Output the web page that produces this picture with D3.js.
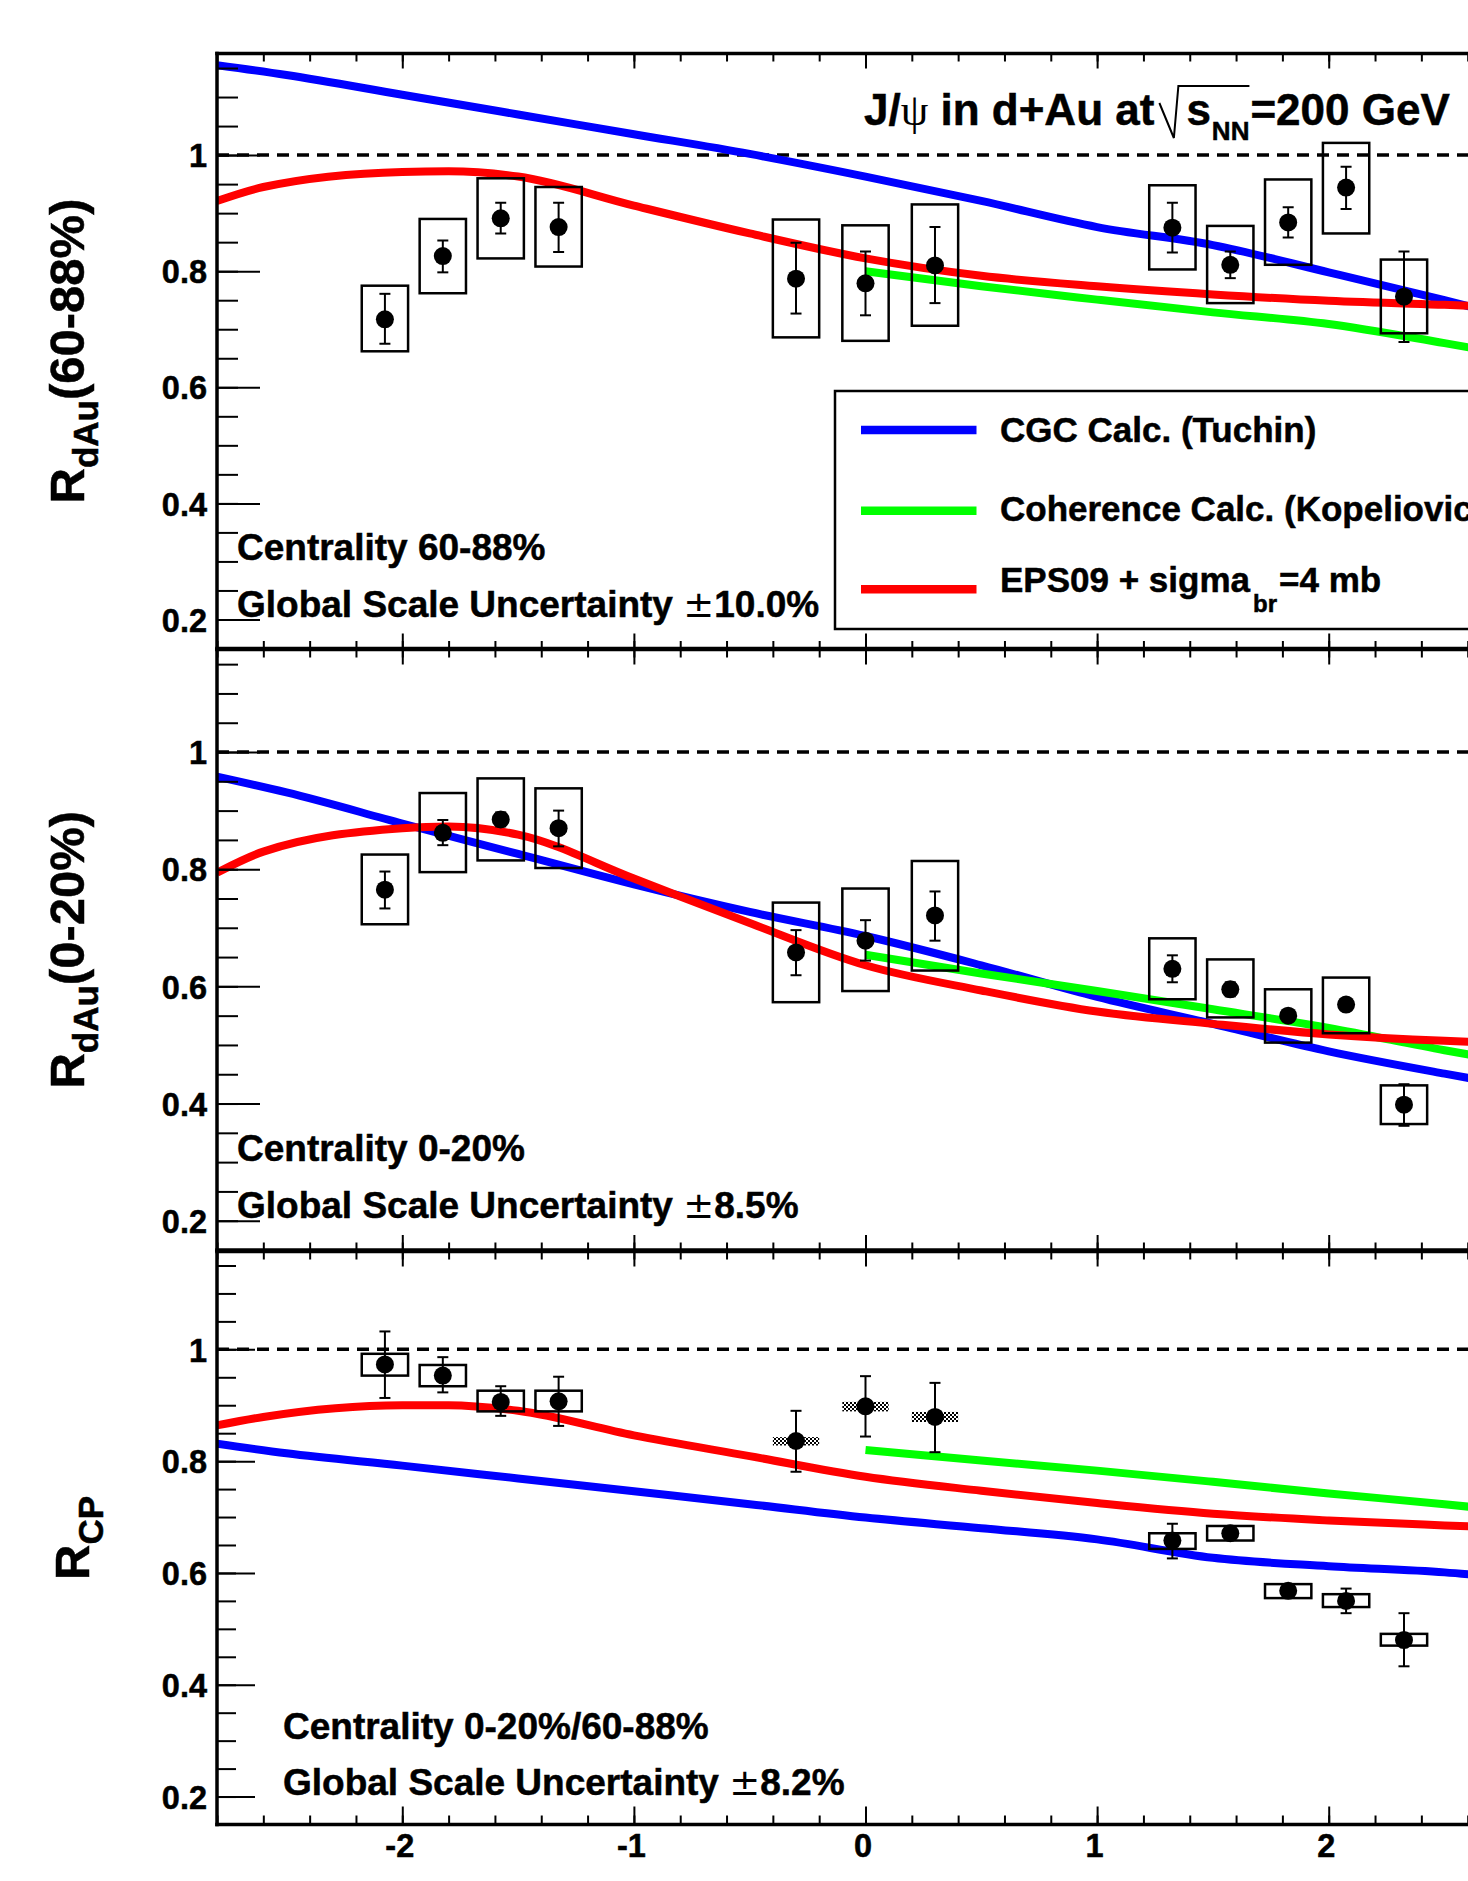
<!DOCTYPE html>
<html>
<head>
<meta charset="utf-8">
<title>J/psi in d+Au: RdAu and RCP vs rapidity</title>
<script src="https://d3js.org/d3.v7.min.js"></script>
<style>
body { margin: 0; background: #fff; }
svg { display: block; font-family: "Liberation Sans", Arial, Helvetica, sans-serif; font-weight: bold; }
svg text { stroke: #000; stroke-width: 0.5px; }
</style>
</head>
<body>
<svg id="chart" width="1468" height="1881"></svg>
<script>
// ---- data ----
const rapidity = [-2.075, -1.825, -1.575, -1.325, -0.3, 0, 0.3, 1.325, 1.575, 1.825, 2.075, 2.325];

// RdAu 60-88%
const periphVal    = [0.717, 0.826, 0.891, 0.876, 0.787, 0.779, 0.810, 0.875, 0.811, 0.884, 0.944, 0.756];
const periphStatLo = [0.675, 0.798, 0.865, 0.833, 0.727, 0.724, 0.745, 0.832, 0.788, 0.858, 0.907, 0.678];
const periphStatHi = [0.761, 0.853, 0.918, 0.918, 0.849, 0.834, 0.876, 0.918, 0.834, 0.910, 0.980, 0.834];
const periphSysLo  = [0.662, 0.762, 0.822, 0.808, 0.686, 0.680, 0.706, 0.803, 0.745, 0.811, 0.865, 0.693];
const periphSysHi  = [0.775, 0.890, 0.960, 0.945, 0.889, 0.879, 0.915, 0.948, 0.878, 0.958, 1.021, 0.820];

// RdAu 0-20%
const centralVal    = [0.765, 0.862, 0.885, 0.870, 0.658, 0.678, 0.721, 0.630, 0.595, 0.550, 0.569, 0.398];
const centralStatLo = [0.733, 0.841, 0.873, 0.839, 0.619, 0.644, 0.678, 0.607, 0.583, 0.540, 0.559, 0.362];
const centralStatHi = [0.796, 0.884, 0.897, 0.900, 0.696, 0.713, 0.762, 0.653, 0.607, 0.560, 0.579, 0.433];
const centralSysLo  = [0.706, 0.795, 0.815, 0.802, 0.573, 0.592, 0.627, 0.578, 0.547, 0.504, 0.520, 0.365];
const centralSysHi  = [0.825, 0.930, 0.955, 0.938, 0.743, 0.767, 0.814, 0.682, 0.646, 0.595, 0.615, 0.431];

// RCP
const rcpVal    = [0.973, 0.953, 0.906, 0.907, 0.836, 0.898, 0.879, 0.658, 0.671, 0.568, 0.550, 0.480];
const rcpStatLo = [0.913, 0.923, 0.881, 0.863, 0.781, 0.844, 0.816, 0.626, 0.661, 0.558, 0.528, 0.433];
const rcpStatHi = [1.032, 0.986, 0.934, 0.951, 0.890, 0.952, 0.940, 0.688, 0.681, 0.578, 0.572, 0.528];
const rcpSysLo  = [0.953, 0.934, 0.889, 0.889, 0.828, 0.889, 0.870, 0.643, 0.658, 0.555, 0.539, 0.470];
const rcpSysHi  = [0.992, 0.972, 0.926, 0.926, 0.843, 0.906, 0.888, 0.671, 0.684, 0.580, 0.562, 0.491];

// theory curves
const cgcX = [-2.8, -2.5, -2, -1.5, -1, -0.5, 0, 0.5, 1, 1.5, 2, 2.5, 2.8];
const cgcPeriph  = [1.155, 1.138, 1.104, 1.070, 1.036, 1.002, 0.963, 0.921, 0.876, 0.845, 0.798, 0.750, 0.720];
const cgcCentral = [0.958, 0.931, 0.878, 0.826, 0.774, 0.727, 0.686, 0.636, 0.582, 0.536, 0.489, 0.451, 0.430];
const cgcRcp     = [0.831, 0.814, 0.792, 0.769, 0.746, 0.723, 0.699, 0.680, 0.660, 0.627, 0.612, 0.601, 0.590];

const epsX = [-2.8, -2.6, -2, -1.8, -1.5, -1, -0.5, 0, 0.5, 1, 1.5, 2, 2.5, 2.8];
const epsPeriph  = [0.921, 0.945, 0.971, 0.972, 0.963, 0.913, 0.865, 0.822, 0.792, 0.774, 0.760, 0.749, 0.742, 0.738];
const epsCentral = [0.794, 0.830, 0.870, 0.873, 0.859, 0.784, 0.708, 0.636, 0.593, 0.557, 0.536, 0.518, 0.507, 0.503];
const epsRcp     = [0.864, 0.879, 0.900, 0.900, 0.890, 0.846, 0.809, 0.772, 0.747, 0.725, 0.706, 0.694, 0.685, 0.680];

const cohX = [0, 0.5, 1, 1.5, 2, 2.5, 2.8];
const cohPeriph  = [0.800, 0.774, 0.751, 0.729, 0.709, 0.676, 0.655];
const cohCentral = [0.654, 0.622, 0.592, 0.561, 0.529, 0.491, 0.470];
const cohRcp     = [0.820, 0.801, 0.783, 0.763, 0.742, 0.723, 0.710];

const xMajor = [-2, -1, 0, 1, 2];
const yMajor = [0.2, 0.4, 0.6, 0.8, 1];
const legendNames = ["CGC Calc. (Tuchin)", "Coherence Calc. (Kopeliovich)", "EPS09 + sigma"];

// ---- layout ----
const svg = d3.select("#chart");
const left = 217, right = 1514;
const x = d3.scaleLinear().domain([-2.8, 2.8]).range([left, right]);
const xMinor = d3.range(-14, 15).map(i => i * 0.2);
const yMinor = d3.range(3, 24).map(i => i * 0.05);

const defs = svg.append("defs");
const pat = defs.append("pattern").attr("id", "checker").attr("patternUnits", "userSpaceOnUse")
  .attr("width", 4).attr("height", 4);
pat.append("rect").attr("width", 4).attr("height", 4).attr("fill", "#fff");
pat.append("rect").attr("width", 2).attr("height", 2).attr("fill", "#000");
pat.append("rect").attr("x", 2).attr("y", 2).attr("width", 2).attr("height", 2).attr("fill", "#000");

const panels = [
  { top: 53.5, bottom: 648.5, val: periphVal, statLo: periphStatLo, statHi: periphStatHi, sysLo: periphSysLo, sysHi: periphSysHi,
    cgc: cgcPeriph, eps: epsPeriph, coh: cohPeriph, sub: "dAu", rest: "(60-88%)", titleX: 84,
    cent: "Centrality 60-88%", glob: "10.0%", textX: 237, textY: [560, 616.6], majLen: 43, minLen: 21, xTop: 15, xBot: 15 },
  { top: 649.5, bottom: 1250, val: centralVal, statLo: centralStatLo, statHi: centralStatHi, sysLo: centralSysLo, sysHi: centralSysHi,
    cgc: cgcCentral, eps: epsCentral, coh: cohCentral, sub: "dAu", rest: "(0-20%)", titleX: 84,
    cent: "Centrality 0-20%", glob: "8.5%", textX: 237, textY: [1161, 1217.6], majLen: 43, minLen: 21, xTop: 15, xBot: 15 },
  { top: 1251.5, bottom: 1824.5, val: rcpVal, statLo: rcpStatLo, statHi: rcpStatHi, sysLo: rcpSysLo, sysHi: rcpSysHi,
    cgc: cgcRcp, eps: epsRcp, coh: cohRcp, sub: "CP", rest: "", titleX: 89, hatchMid: true,
    cent: "Centrality 0-20%/60-88%", glob: "8.2%", textX: 283, textY: [1738.5, 1795.4], majLen: 38, minLen: 19, xTop: 15, xBot: 18, labels: true }
];

const colors = { cgc: "#0000ff", coh: "#00ff00", eps: "#ff0000" };

panels.forEach((p, pi) => {
  const y = d3.scaleLinear().domain([0.15, 1.175]).range([p.bottom, p.top]);
  const g = svg.append("g");
  const clipId = "clip" + pi;
  defs.append("clipPath").attr("id", clipId).append("rect")
    .attr("x", left).attr("y", p.top).attr("width", right - left).attr("height", p.bottom - p.top);
  const plot = g.append("g").attr("clip-path", `url(#${clipId})`);

  // unity line
  plot.append("line").attr("x1", left).attr("x2", right).attr("y1", y(1)).attr("y2", y(1))
    .attr("stroke", "#000").attr("stroke-width", 3.5).attr("stroke-dasharray", "12,8");

  // theory curves
  const line = d3.line().curve(d3.curveMonotoneX).x(d => x(d[0])).y(d => y(d[1]));
  [["cgc", cgcX, p.cgc], ["coh", cohX, p.coh], ["eps", epsX, p.eps]].forEach(([k, xs, ys]) => {
    plot.append("path").attr("d", line(xs.map((v, i) => [v, ys[i]])))
      .attr("fill", "none").attr("stroke", colors[k]).attr("stroke-width", 8);
  });

  // systematic boxes
  rapidity.forEach((r, i) => {
    const hatched = p.hatchMid && Math.abs(r) < 1;
    plot.append("rect")
      .attr("x", x(r - 0.1)).attr("width", x(r + 0.1) - x(r - 0.1))
      .attr("y", y(p.sysHi[i])).attr("height", y(p.sysLo[i]) - y(p.sysHi[i]))
      .attr("fill", hatched ? "url(#checker)" : "none")
      .attr("stroke", hatched ? "none" : "#000").attr("stroke-width", 2.5);
  });

  // statistical errors and points
  rapidity.forEach((r, i) => {
    const cx = x(r);
    const eb = plot.append("g").attr("stroke", "#000").attr("stroke-width", 2);
    eb.append("line").attr("x1", cx).attr("x2", cx).attr("y1", y(p.statLo[i])).attr("y2", y(p.statHi[i]));
    eb.append("line").attr("x1", cx - 5.5).attr("x2", cx + 5.5).attr("y1", y(p.statLo[i])).attr("y2", y(p.statLo[i]));
    eb.append("line").attr("x1", cx - 5.5).attr("x2", cx + 5.5).attr("y1", y(p.statHi[i])).attr("y2", y(p.statHi[i]));
    plot.append("circle").attr("cx", cx).attr("cy", y(p.val[i])).attr("r", 9).attr("fill", "#000");
  });

  // y axis ticks
  const yAx = d3.axisLeft(y).tickValues(yMajor).tickSizeInner(-p.majLen).tickSizeOuter(0).tickPadding(10)
    .tickFormat(d => d === 1 ? "1" : d3.format(".1f")(d));
  g.append("g").attr("transform", `translate(${left},0)`).call(yAx)
    .attr("font-family", null).attr("font-size", 32.5)
    .call(s => s.select(".domain").remove())
    .call(s => s.selectAll("line").attr("stroke-width", 2))
    .call(s => s.selectAll("text").attr("dy", "0.36em").attr("fill", "#000"));
  g.append("g").attr("transform", `translate(${left},0)`)
    .call(d3.axisLeft(y).tickValues(yMinor).tickSizeInner(-p.minLen).tickSizeOuter(0).tickFormat(""))
    .call(s => s.select(".domain").remove())
    .call(s => s.selectAll("line").attr("stroke-width", 2));

  // x axis ticks (top and bottom of each pad)
  const xTicks = (ax, yy, len, vals) => g.append("g").attr("transform", `translate(0,${yy})`)
    .call(ax(x).tickValues(vals).tickSizeInner(-len).tickSizeOuter(0).tickFormat(""))
    .call(s => s.select(".domain").remove())
    .call(s => s.selectAll("line").attr("stroke-width", 2));
  xTicks(d3.axisTop, p.top, p.xTop, xMajor);
  xTicks(d3.axisTop, p.top, 8, xMinor);
  xTicks(d3.axisBottom, p.bottom, p.xBot, xMajor);
  xTicks(d3.axisBottom, p.bottom, p.xBot / 2, xMinor);
  if (p.labels) {
    g.append("g").attr("transform", `translate(0,${p.bottom})`)
      .call(d3.axisBottom(x).tickValues(xMajor).tickSize(0).tickPadding(9).tickFormat(d3.format("d")))
      .attr("font-family", null).attr("font-size", 32.5)
      .call(s => s.select(".domain").remove())
      .call(s => s.selectAll("text").attr("dx", -3).attr("fill", "#000").text(d => String(d)));
  }

  // frame
  const fr = g.append("g").attr("stroke", "#000").attr("stroke-width", 3.5).attr("stroke-linecap", "square");
  fr.append("line").attr("x1", left).attr("x2", right).attr("y1", p.top).attr("y2", p.top);
  fr.append("line").attr("x1", left).attr("x2", right).attr("y1", p.bottom).attr("y2", p.bottom);
  fr.append("line").attr("x1", left).attr("x2", left).attr("y1", p.top).attr("y2", p.bottom);
  fr.append("line").attr("x1", right).attr("x2", right).attr("y1", p.top).attr("y2", p.bottom);

  // y title
  const cy = (p.top + p.bottom) / 2;
  const t = g.append("text").attr("transform", `translate(${p.titleX},${cy}) rotate(-90)`)
    .attr("text-anchor", "middle").attr("font-size", 49);
  t.append("tspan").text("R");
  t.append("tspan").attr("font-size", 35).attr("dy", 14).text(p.sub);
  if (p.rest) t.append("tspan").attr("dy", -14).text(p.rest);

  // annotation text
  g.append("text").attr("x", p.textX).attr("y", p.textY[0]).attr("font-size", 37).text(p.cent);
  const gl = g.append("text").attr("x", p.textX).attr("y", p.textY[1]).attr("font-size", 37);
  gl.append("tspan").text("Global Scale Uncertainty ");
  gl.append("tspan").attr("font-weight", "normal").attr("stroke-width", 0)
    .attr("font-family", "'DejaVu Sans', sans-serif").text("\u00b1");
  gl.append("tspan").text(p.glob);
});

// ---- legend ----
const lg = svg.append("g");
lg.append("rect").attr("x", 835).attr("y", 391).attr("width", 800).attr("height", 238)
  .attr("fill", "#fff").attr("stroke", "#000").attr("stroke-width", 2.5);
const legY = [430, 510.7, 589.3];
const legBase = [442, 520.5, 592];
const legKeys = ["cgc", "coh", "eps"];
legKeys.forEach((k, i) => {
  lg.append("line").attr("x1", 861).attr("x2", 976.5).attr("y1", legY[i]).attr("y2", legY[i])
    .attr("stroke", colors[k]).attr("stroke-width", 8.5);
  const tx = lg.append("text").attr("x", 1000).attr("y", legBase[i]).attr("font-size", 35);
  tx.append("tspan").text(legendNames[i]);
  if (k === "eps") {
    tx.append("tspan").attr("font-size", 24).attr("dx", 3).attr("dy", 20).text("br");
    tx.append("tspan").attr("dx", 2).attr("dy", -20).text("=4 mb");
  }
});

// ---- title ----
const tg = svg.append("g");
const t1 = tg.append("text").attr("x", 864).attr("y", 125).attr("font-size", 44);
t1.append("tspan").text("J/");
t1.append("tspan").attr("font-family", "'Liberation Serif', 'DejaVu Serif', serif")
  .attr("font-weight", "normal").attr("stroke-width", 0).text("\u03c8");
t1.append("tspan").text(" in d+Au at");
const x1 = 864 + t1.node().getComputedTextLength();
const sx = x1 + 4;
const sEl = tg.append("text").attr("x", sx + 28).attr("y", 125).attr("font-size", 44).text("s");
const sEnd = sx + 28 + sEl.node().getComputedTextLength();
const nnEl = tg.append("text").attr("x", sEnd + 1).attr("y", 140).attr("font-size", 26).text("NN");
const nnEnd = sEnd + 1 + nnEl.node().getComputedTextLength();
tg.append("text").attr("x", nnEnd + 1).attr("y", 125).attr("font-size", 44).text("=200 GeV");
tg.append("path")
  .attr("d", `M${sx + 1},103 L${sx + 15.5},138 L${sx + 20},86 L${nnEnd},86`)
  .attr("fill", "none").attr("stroke", "#000").attr("stroke-width", 2);
</script>
</body>
</html>
